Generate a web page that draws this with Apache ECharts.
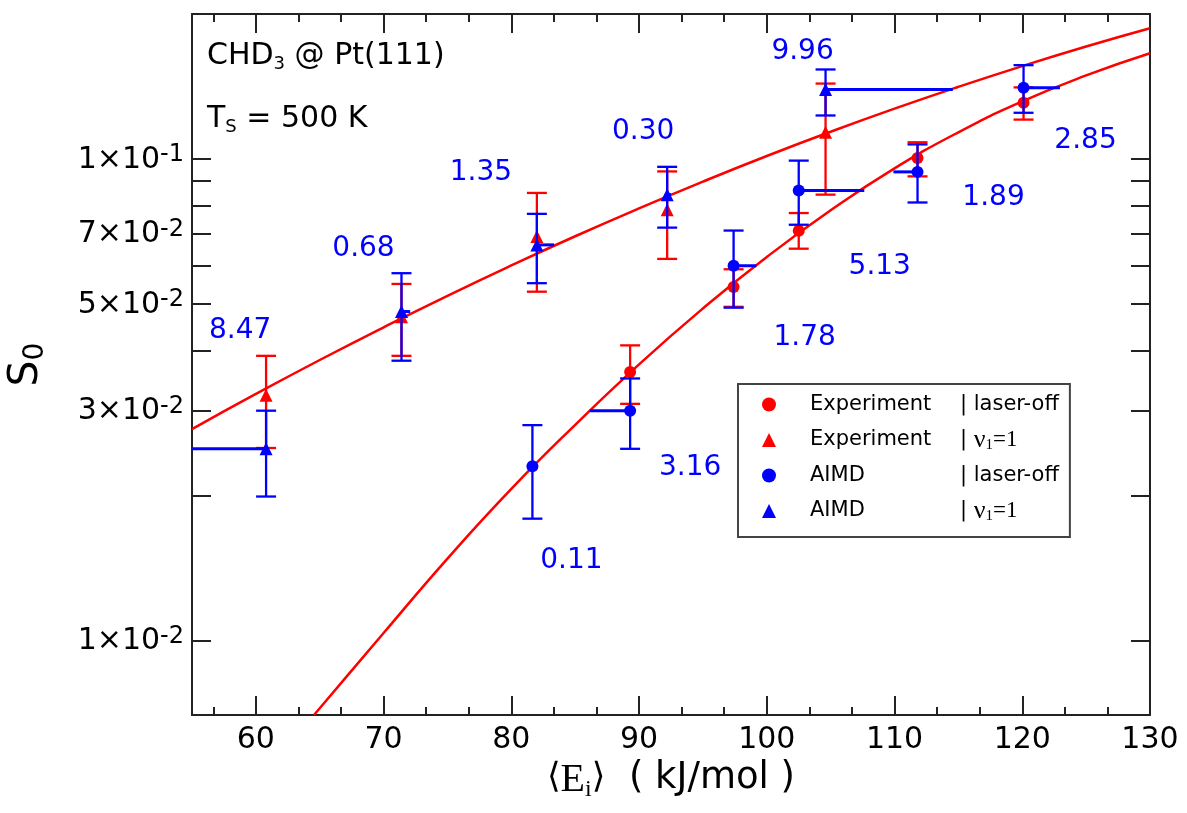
<!DOCTYPE html>
<html>
<head>
<meta charset="utf-8">
<script src="https://cdn.jsdelivr.net/npm/echarts@6/dist/echarts.min.js"></script>
<style>
  html, body { margin: 0; padding: 0; background: #fff; }
  #chart { width: 1187px; height: 813px; }
</style>
</head>
<body>
<div id="chart"></div>
<script>
// Sticking probability S0 of CHD3 on Pt(111) vs mean incidence energy <Ei> (kJ/mol)

// Experiment, laser-off
const expOffX  = [89.3, 97.4, 102.5, 111.8, 120.1];
const expOffY  = [0.0361, 0.0542, 0.0709, 0.1005, 0.1308];
const expOffLo = [0.0310, 0.0493, 0.0651, 0.0920, 0.1207];
const expOffHi = [0.0410, 0.0590, 0.0772, 0.1083, 0.1408];

// Experiment, v1 = 1
const expV1X  = [60.8, 71.4, 82.0, 92.2, 104.6];
const expV1Y  = [0.0323, 0.0470, 0.0690, 0.0784, 0.1136];
const expV1Lo = [0.0251, 0.0390, 0.0530, 0.0620, 0.0843];
const expV1Hi = [0.0390, 0.0550, 0.0850, 0.0942, 0.1434];

// AIMD, laser-off (shift = energy offset to the fitted curve, kJ/mol)
const aimdOffX     = [81.65, 89.3, 97.4, 102.5, 111.8, 120.1];
const aimdOffY     = [0.0230, 0.0300, 0.0600, 0.0860, 0.0940, 0.1405];
const aimdOffLo    = [0.0179, 0.0250, 0.0491, 0.0730, 0.0812, 0.1247];
const aimdOffHi    = [0.0280, 0.0350, 0.0710, 0.0992, 0.1072, 0.1566];
const aimdOffShift = [-0.11, -3.16, 1.78, 5.13, -1.89, 2.85];

// AIMD, v1 = 1
const aimdV1X     = [60.8, 71.4, 82.0, 92.2, 104.6];
const aimdV1Y     = [0.0250, 0.0482, 0.0663, 0.0843, 0.1394];
const aimdV1Lo    = [0.0199, 0.0381, 0.0552, 0.0720, 0.1231];
const aimdV1Hi    = [0.0300, 0.0579, 0.0769, 0.0963, 0.1534];
const aimdV1Shift = [-8.47, 0.68, 1.35, 0.30, 9.96];

// Fitted S0(E) curves
const fitV1X  = [55, 60, 65, 70, 75, 80, 85, 90, 95, 100, 105, 110, 115, 120, 125, 130];
const fitV1Y  = [0.02747, 0.03250, 0.03823, 0.04470, 0.05198, 0.06009, 0.06909, 0.07896,
                 0.08972, 0.1014, 0.1139, 0.1272, 0.1412, 0.1559, 0.1712, 0.1868];
const fitOffX = [64.55, 65, 70, 75, 80, 85, 90, 95, 100, 105, 110, 115, 120, 125, 130];
const fitOffY = [0.0070, 0.00723, 0.01036, 0.01479, 0.02064, 0.02804, 0.03745, 0.04892,
                 0.06258, 0.07824, 0.09561, 0.1136, 0.1317, 0.1491, 0.1658];

// Axis ticks
const xMajorTicks = [60, 70, 80, 90, 100, 110, 120, 130];
const xMinorTicks = [56.667, 63.333, 66.667, 73.333, 76.667, 83.333, 86.667, 93.333,
                     96.667, 103.333, 106.667, 113.333, 116.667, 123.333, 126.667];
const yTicks      = [0.01, 0.02, 0.03, 0.04, 0.05, 0.06, 0.07, 0.08, 0.09, 0.1];
const yLabelTicks = [0.01, 0.03, 0.05, 0.07, 0.1];

// Legend entries
const legendNames = ['Experiment | laser-off', 'Experiment | ν1=1', 'AIMD | laser-off', 'AIMD | ν1=1'];

// Pixel offsets of the shift labels from their AIMD points
const offLabelOffsets = [[39, 94], [60, 57], [71, 72], [81, 76], [76, 26], [62, 53]];
const v1LabelOffsets  = [[-26, -118], [-38, -63], [-56, -72], [-24, -63], [-23, -38]];

const RED = '#ff0000';
const BLUE = '#0000ff';
const INK = '#222222';
const SANS = 'DejaVu Sans';
const SERIF = 'Liberation Serif';

const zip = (a, b) => a.map((v, i) => [v, b[i]]);
const zip3 = (a, b, c) => a.map((v, i) => [v, b[i], c[i]]);

function errorBar(color) {
  return function (params, api) {
    const x = api.value(0);
    const pLo = api.coord([x, api.value(1)]);
    const pHi = api.coord([x, api.value(2)]);
    const cap = 10;
    const style = { stroke: color, lineWidth: 2.3 };
    return {
      type: 'group',
      children: [
        { type: 'line', shape: { x1: pLo[0], y1: pLo[1], x2: pHi[0], y2: pHi[1] }, style },
        { type: 'line', shape: { x1: pLo[0] - cap, y1: pLo[1], x2: pLo[0] + cap, y2: pLo[1] }, style },
        { type: 'line', shape: { x1: pHi[0] - cap, y1: pHi[1], x2: pHi[0] + cap, y2: pHi[1] }, style }
      ]
    };
  };
}

function shiftBar(params, api) {
  const x = api.value(0), y = api.value(1), s = api.value(2);
  const p0 = api.coord([x, y]);
  const p1 = api.coord([x + s, y]);
  const cs = params.coordSys;
  const xEnd = Math.max(cs.x, Math.min(cs.x + cs.width, p1[0]));
  return {
    type: 'line',
    shape: { x1: p0[0], y1: p0[1], x2: xEnd, y2: p0[1] },
    style: { stroke: BLUE, lineWidth: 3 }
  };
}

function shiftLabels(xs, ys, shifts, offsets) {
  return xs.map((x, i) => ({
    value: [x, ys[i], shifts[i]],
    label: { offset: offsets[i] }
  }));
}

function powLabel(v) {
  const e = Math.floor(Math.log10(v) + 1e-9);
  const m = Math.round(v / Math.pow(10, e));
  return '{m|' + m + '×10}{e|' + e + '}';
}

function legendLabel(name) {
  const parts = name.split(' | ');
  if (parts[1] === 'laser-off') {
    return '{a|' + parts[0] + '}{b|| laser-off}';
  }
  return '{a|' + parts[0] + '}{b|| }{nu|ν}{sub|1}{eq|=1}';
}

const xAxisBase = {
  type: 'value', min: 55, max: 130, gridIndex: 0,
  splitLine: { show: false },
  axisLine: { onZero: false, lineStyle: { color: INK, width: 2 } }
};
const yAxisBase = {
  type: 'log', logBase: 10, min: 0.007, max: 0.2, gridIndex: 0,
  splitLine: { show: false },
  minorTick: { show: false },
  axisLine: { onZero: false, lineStyle: { color: INK, width: 2 } }
};

const shiftLabelStyle = {
  show: true, position: 'inside', fontFamily: SANS, fontSize: 28, color: BLUE,
  opacity: 1, textBorderWidth: 0,
  formatter: p => Math.abs(p.value[2]).toFixed(2)
};

const chart = echarts.init(document.getElementById('chart'), null, { renderer: 'canvas' });

chart.setOption({
  animation: false,
  backgroundColor: '#ffffff',
  grid: { left: 192, right: 37, top: 14, bottom: 98, containLabel: false, outerBoundsMode: 'none' },
  xAxis: [
    Object.assign({}, xAxisBase, {
      position: 'bottom',
      axisTick: { show: true, inside: true, length: 19, customValues: xMajorTicks,
                  lineStyle: { color: INK, width: 2 } },
      axisLabel: { show: true, customValues: xMajorTicks, margin: 10,
                   fontFamily: SANS, fontSize: 30, color: '#000' },
      name: '{br|⟨}{e|E}{i|i}{br|⟩}{u|  ( kJ/mol )}',
      nameLocation: 'middle',
      nameGap: 45,
      nameTextStyle: {
        rich: {
          br: { fontFamily: SANS, fontSize: 35, color: '#000', lineHeight: 40, verticalAlign: 'top' },
          e:  { fontFamily: SERIF, fontSize: 40, color: '#000', lineHeight: 40, verticalAlign: 'top', padding: [0, 0, 20, 0] },
          i:  { fontFamily: SERIF, fontSize: 24, color: '#000', lineHeight: 42, verticalAlign: 'bottom' },
          u:  { fontFamily: SANS, fontSize: 37, color: '#000', lineHeight: 40, verticalAlign: 'top' }
        }
      }
    }),
    Object.assign({}, xAxisBase, {
      position: 'bottom',
      axisLine: { show: false, onZero: false },
      axisTick: { show: true, inside: true, length: 8, customValues: xMinorTicks,
                  lineStyle: { color: INK, width: 2 } },
      axisLabel: { show: false }
    }),
    Object.assign({}, xAxisBase, {
      position: 'top',
      axisTick: { show: true, inside: true, length: 19, customValues: xMajorTicks,
                  lineStyle: { color: INK, width: 2 } },
      axisLabel: { show: false }
    }),
    Object.assign({}, xAxisBase, {
      position: 'top',
      axisLine: { show: false, onZero: false },
      axisTick: { show: true, inside: true, length: 8, customValues: xMinorTicks,
                  lineStyle: { color: INK, width: 2 } },
      axisLabel: { show: false }
    })
  ],
  yAxis: [
    Object.assign({}, yAxisBase, {
      position: 'left',
      axisTick: { show: true, inside: true, length: 19, customValues: yTicks,
                  lineStyle: { color: INK, width: 2 } },
      axisLabel: {
        show: true, customValues: yLabelTicks, margin: 8,
        formatter: powLabel,
        rich: {
          m: { fontFamily: SANS, fontSize: 30, color: '#000', lineHeight: 32,
               padding: [17, 0, 0, 0], verticalAlign: 'bottom' },
          e: { fontFamily: SANS, fontSize: 24, color: '#000', lineHeight: 27, verticalAlign: 'top' }
        }
      },
      name: '{s|S}{sub|0}',
      nameLocation: 'middle',
      nameRotate: 90,
      nameGap: 120,
      nameTextStyle: {
        rich: {
          s:   { fontFamily: SANS, fontSize: 41, color: '#000', lineHeight: 44,
                 padding: [0, 0, 20, 0], verticalAlign: 'top' },
          sub: { fontFamily: SANS, fontSize: 28, color: '#000', lineHeight: 40, verticalAlign: 'bottom' }
        }
      }
    }),
    Object.assign({}, yAxisBase, {
      position: 'right',
      axisTick: { show: true, inside: true, length: 19, customValues: yTicks,
                  lineStyle: { color: INK, width: 2 } },
      axisLabel: { show: false }
    })
  ],
  legend: {
    data: [
      { name: legendNames[0], icon: 'circle' },
      { name: legendNames[1], icon: 'triangle' },
      { name: legendNames[2], icon: 'circle' },
      { name: legendNames[3], icon: 'triangle' }
    ],
    orient: 'vertical',
    left: 738, top: 384,
    itemWidth: 14, itemHeight: 14, itemGap: 12,
    padding: [10, 11, 13, 24],
    backgroundColor: '#ffffff',
    borderColor: '#444444', borderWidth: 2, borderRadius: 0,
    selectedMode: false,
    formatter: legendLabel,
    textStyle: {
      rich: {
        a:   { fontFamily: SANS, fontSize: 21, color: '#000', lineHeight: 26, width: 150,
               padding: [0, 0, 0, 29], verticalAlign: 'middle' },
        b:   { fontFamily: SANS, fontSize: 21, color: '#000', lineHeight: 26, verticalAlign: 'middle' },
        nu:  { fontFamily: SERIF, fontSize: 26, color: '#000', lineHeight: 26, verticalAlign: 'middle' },
        sub: { fontFamily: SERIF, fontSize: 15, color: '#000', lineHeight: 6, verticalAlign: 'bottom' },
        eq:  { fontFamily: SERIF, fontSize: 23, color: '#000', lineHeight: 26, verticalAlign: 'middle' }
      }
    }
  },
  graphic: [
    {
      type: 'text', left: 207, top: 41, silent: true,
      style: {
        text: '{m|CHD}{s|3}{m| @ Pt(111)}',
        rich: {
          m: { fontFamily: SANS, fontSize: 30, fill: '#000', lineHeight: 32,
               padding: [0, 0, 17, 0], verticalAlign: 'top' },
          s: { fontFamily: SANS, fontSize: 18, fill: '#000', lineHeight: 32, verticalAlign: 'bottom' }
        }
      }
    },
    {
      type: 'text', left: 207, top: 104, silent: true,
      style: {
        text: '{m|T}{s|S}{m| = 500 K}',
        rich: {
          m: { fontFamily: SANS, fontSize: 30, fill: '#000', lineHeight: 32,
               padding: [0, 0, 17, 0], verticalAlign: 'top' },
          s: { fontFamily: SANS, fontSize: 18, fill: '#000', lineHeight: 32, verticalAlign: 'bottom' }
        }
      }
    }
  ],
  series: [
    // fitted curves
    { type: 'line', name: 'fit v1', data: zip(fitV1X, fitV1Y), smooth: 0.5,
      symbol: 'none', clip: true, silent: true, z: 2, lineStyle: { color: RED, width: 2.5 } },
    { type: 'line', name: 'fit off', data: zip(fitOffX, fitOffY), smooth: 0.5,
      symbol: 'none', clip: true, silent: true, z: 2, lineStyle: { color: RED, width: 2.5 } },

    // experimental error bars and points
    { type: 'custom', name: 'exp off err', data: zip3(expOffX, expOffLo, expOffHi),
      encode: { x: 0, y: [1, 2] }, renderItem: errorBar(RED), silent: true, z: 3 },
    { type: 'custom', name: 'exp v1 err', data: zip3(expV1X, expV1Lo, expV1Hi),
      encode: { x: 0, y: [1, 2] }, renderItem: errorBar(RED), silent: true, z: 3 },
    { type: 'scatter', name: legendNames[0], data: zip(expOffX, expOffY), symbol: 'circle',
      symbolSize: 12, itemStyle: { color: RED, opacity: 1 }, z: 4 },
    { type: 'scatter', name: legendNames[1], data: zip(expV1X, expV1Y), symbol: 'triangle',
      symbolSize: 13, itemStyle: { color: RED, opacity: 1 }, z: 4 },

    // AIMD energy shifts, error bars and points
    { type: 'custom', name: 'aimd off shift', data: zip3(aimdOffX, aimdOffY, aimdOffShift),
      dimensions: ['x', 'y', 'shift'], encode: { x: 0, y: 1 }, renderItem: shiftBar, silent: true, z: 5 },
    { type: 'custom', name: 'aimd v1 shift', data: zip3(aimdV1X, aimdV1Y, aimdV1Shift),
      dimensions: ['x', 'y', 'shift'], encode: { x: 0, y: 1 }, renderItem: shiftBar, silent: true, z: 5 },
    { type: 'custom', name: 'aimd off err', data: zip3(aimdOffX, aimdOffLo, aimdOffHi),
      encode: { x: 0, y: [1, 2] }, renderItem: errorBar(BLUE), silent: true, z: 5 },
    { type: 'custom', name: 'aimd v1 err', data: zip3(aimdV1X, aimdV1Lo, aimdV1Hi),
      encode: { x: 0, y: [1, 2] }, renderItem: errorBar(BLUE), silent: true, z: 5 },
    { type: 'scatter', name: legendNames[2], data: zip(aimdOffX, aimdOffY), symbol: 'circle',
      symbolSize: 12, itemStyle: { color: BLUE, opacity: 1 }, z: 6 },
    { type: 'scatter', name: legendNames[3], data: zip(aimdV1X, aimdV1Y), symbol: 'triangle',
      symbolSize: 13, itemStyle: { color: BLUE, opacity: 1 }, z: 6 },

    // shift values written next to the AIMD points
    { type: 'scatter', name: 'shift labels off', silent: true, z: 7,
      data: shiftLabels(aimdOffX, aimdOffY, aimdOffShift, offLabelOffsets),
      dimensions: ['x', 'y', 'shift'], encode: { x: 0, y: 1 },
      symbolSize: 1, itemStyle: { color: 'rgba(0,0,0,0)', opacity: 1 },
      label: shiftLabelStyle },
    { type: 'scatter', name: 'shift labels v1', silent: true, z: 7,
      data: shiftLabels(aimdV1X, aimdV1Y, aimdV1Shift, v1LabelOffsets),
      dimensions: ['x', 'y', 'shift'], encode: { x: 0, y: 1 },
      symbolSize: 1, itemStyle: { color: 'rgba(0,0,0,0)', opacity: 1 },
      label: shiftLabelStyle }
  ]
});
</script>
</body>
</html>
